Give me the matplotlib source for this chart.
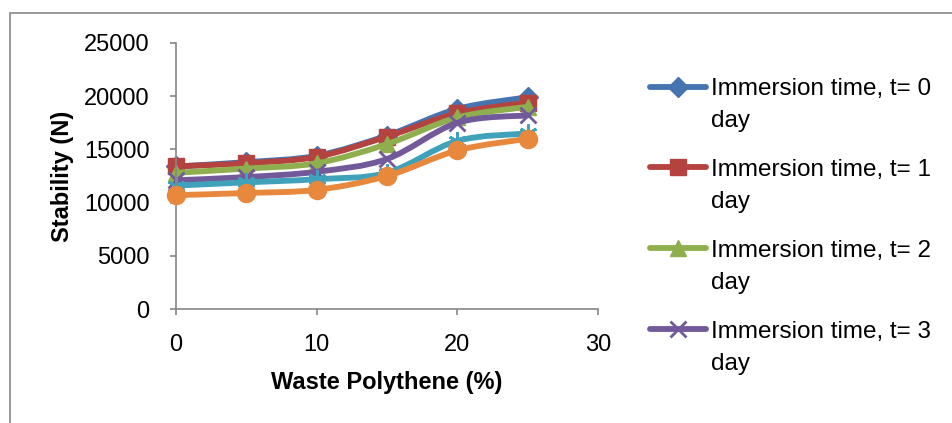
import matplotlib
matplotlib.use("Agg")
import matplotlib.pyplot as plt
from matplotlib.lines import Line2D
from matplotlib.patches import PathPatch, Rectangle
from matplotlib.path import Path

plt.rcParams['font.family'] = ['Liberation Sans', 'DejaVu Sans']

# waste polythene content (%)
polythene = [0, 5, 10, 15, 20, 25]

# stability (N) for each immersion time
t0 = [13400, 13800, 14400, 16300, 18800, 19900]
t1 = [13400, 13700, 14300, 16200, 18400, 19400]
t2 = [12800, 13200, 13700, 15500, 18000, 19000]
t3 = [12100, 12400, 12900, 14100, 17500, 18200]
t4 = [11600, 11900, 12200, 12800, 15800, 16500]
t5 = [10700, 10900, 11200, 12500, 14900, 16000]

series = [t0, t1, t2, t3, t4, t5]
labels = ["Immersion time, t= %d" % d for d in range(6)]
colors = ['#4674B0', '#B4433F', '#8FAF4E', '#725A9A', '#40A2BA', '#E8883C']
markers = ['D', 's', '^', 'x', (6, 2, 0), 'o']
msizes = [10, 12, 12, 12, 13, 13]
axis_grey = '#868686'


def smooth_path(xs, ys):
    """Excel-style smoothed line through the points (cubic bezier)."""
    pts = list(zip(xs, ys))
    verts = [pts[0]]
    codes = [Path.MOVETO]
    n = len(pts)
    for i in range(n - 1):
        p0 = pts[max(i - 1, 0)]
        p1 = pts[i]
        p2 = pts[i + 1]
        p3 = pts[min(i + 2, n - 1)]
        c1 = (p1[0] + (p2[0] - p0[0]) / 6, p1[1] + (p2[1] - p0[1]) / 6)
        c2 = (p2[0] - (p3[0] - p1[0]) / 6, p2[1] - (p3[1] - p1[1]) / 6)
        verts += [c1, c2, p2]
        codes += [Path.CURVE4] * 3
    return Path(verts, codes)


fig = plt.figure(figsize=(9.52, 4.23), dpi=100)
ax = fig.add_axes([176 / 952, 1 - 309 / 423, 422 / 952, 266 / 423])

for i, (vals, c, m, ms) in enumerate(zip(series, colors, markers, msizes)):
    z = 2 + i * 0.1
    ax.add_patch(PathPatch(smooth_path(polythene, vals), fill=False,
                           edgecolor=c, lw=4.2, capstyle='round',
                           joinstyle='round', zorder=z))
    mew = 2 if m in ('x', (6, 2, 0)) else 1
    ax.plot(polythene, vals, ls='none', marker=m, ms=ms, color=c,
            mec=c, mew=mew, zorder=z + 0.05, clip_on=False)

ax.set_xlim(0, 30)
ax.set_ylim(0, 25000)
ax.set_xticks([0, 10, 20, 30])
ax.set_yticks(range(0, 25001, 5000))
for s in ('top', 'right'):
    ax.spines[s].set_visible(False)
for s in ('left', 'bottom'):
    ax.spines[s].set_color(axis_grey)
    ax.spines[s].set_linewidth(1.2)
ax.tick_params(axis='both', colors=axis_grey, labelcolor='black',
               labelsize=17, length=4, width=1.2, direction='out')
ax.tick_params(axis='x', pad=14)
ax.tick_params(axis='y', pad=15)

ax.set_xlabel("Waste Polythene (%)", fontsize=17, fontweight='bold')
ax.set_ylabel("Stability (N)", fontsize=17, fontweight='bold')
ax.xaxis.set_label_coords(0.5, -0.278)
ax.xaxis.label.set_va('center')
ax.yaxis.set_label_coords(-0.268, 0.5)
ax.yaxis.label.set_va('center')

# legend: only first four entries fit in the chart area
handles = []
for c, m, ms in zip(colors[:4], markers[:4], msizes[:4]):
    mew = 2 if m == 'x' else 1
    handles.append(Line2D([], [], color=c, lw=4.2, marker=m, ms=ms,
                          mec=c, mew=mew, solid_capstyle='round'))
leg = fig.legend(handles, labels[:4], loc='upper left',
                 bbox_to_anchor=(650 / 952, 1 - 78 / 423), frameon=False,
                 fontsize=17.5, handlelength=2.3, handletextpad=0.2,
                 labelspacing=2.42, borderpad=0, borderaxespad=0)

# second line of each wrapped label
fig.canvas.draw()
for txt in leg.get_texts():
    bb = txt.get_window_extent()
    fig.text(bb.x0 / 952, (bb.y0 + bb.y1) / 2 / 423 - 32 / 423, "day",
             fontsize=17.5, va='center', ha='left')

# chart area border (cropped at right and bottom)
fig.patches.append(Rectangle((10 / 952, -0.1), 2, 1.1 - 13 / 423,
                             transform=fig.transFigure, fill=False,
                             edgecolor=axis_grey, lw=1.2))

fig.savefig("out.png", dpi=100)
